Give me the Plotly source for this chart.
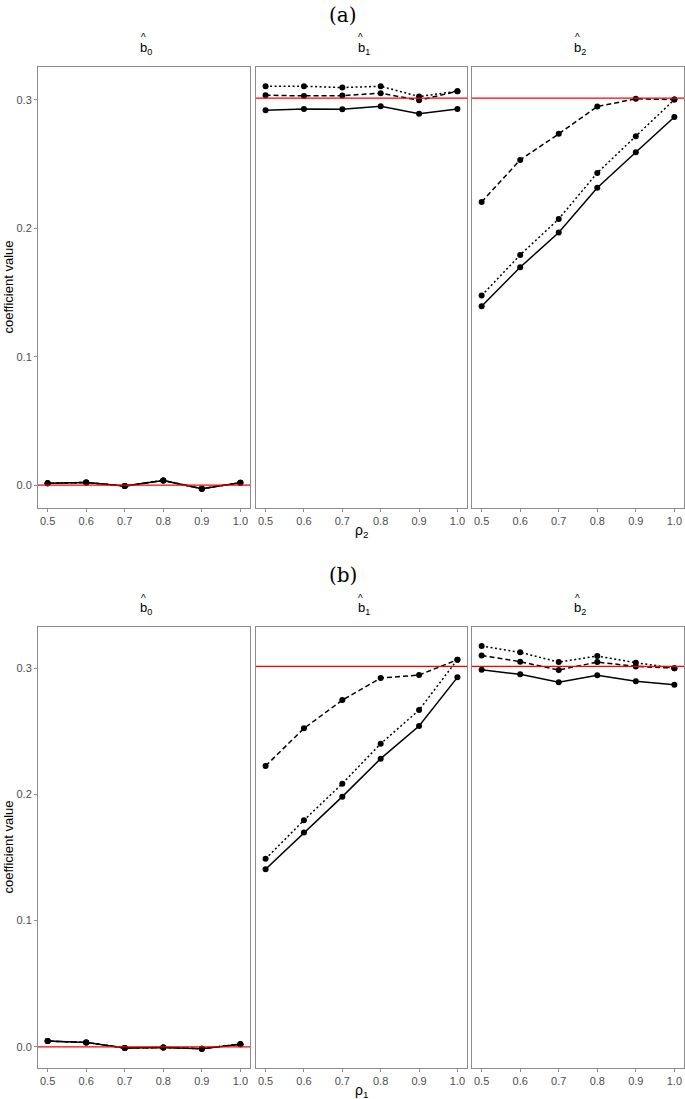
import plotly.graph_objects as go

W, H = 685, 1099

# rho values on the x axis
rho = [0.5, 0.6, 0.7, 0.8, 0.9, 1.0]
true_b = [0.0, 0.3014, 0.3014]
facet_labels = ["b<sub>0</sub>", "b<sub>1</sub>", "b<sub>2</sub>"]

# (a) estimates, varying rho_2
a_b0 = [0.0013, 0.0020, -0.0008, 0.0036, -0.0029, 0.0018]
a_b1_solid = [0.2920, 0.2930, 0.2928, 0.2951, 0.2892, 0.2930]
a_b1_dash = [0.3037, 0.3032, 0.3034, 0.3053, 0.2998, 0.3068]
a_b1_dot = [0.3107, 0.3107, 0.3097, 0.3107, 0.3027, 0.3068]
a_b2_solid = [0.1393, 0.1697, 0.1967, 0.2317, 0.2593, 0.2868]
a_b2_dash = [0.2206, 0.2533, 0.2736, 0.2949, 0.3009, 0.3003]
a_b2_dot = [0.1476, 0.1793, 0.2073, 0.2432, 0.2718, 0.3003]

# (b) estimates, varying rho_1
b_b0 = [0.0045, 0.0035, -0.0010, -0.0005, -0.0015, 0.0020]
b_b1_solid = [0.1407, 0.1697, 0.1982, 0.2283, 0.2542, 0.2927]
b_b1_dash = [0.2225, 0.2523, 0.2747, 0.2922, 0.2945, 0.3067]
b_b1_dot = [0.1489, 0.1795, 0.2085, 0.2401, 0.2668, 0.3067]
b_b2_solid = [0.2987, 0.2951, 0.2888, 0.2943, 0.2896, 0.2869]
b_b2_dash = [0.3101, 0.3051, 0.2985, 0.3048, 0.3014, 0.3000]
b_b2_dot = [0.3175, 0.3125, 0.3048, 0.3096, 0.3043, 0.3000]

panels = [
    {"title": "(a)", "xlab": "\u03c1<sub>2</sub>", "top": 67, "bot": 508,
     "yr": [-0.0179, 0.3257],
     "series": [
         {"solid": a_b0, "dash": a_b0, "dot": a_b0},
         {"solid": a_b1_solid, "dash": a_b1_dash, "dot": a_b1_dot},
         {"solid": a_b2_solid, "dash": a_b2_dash, "dot": a_b2_dot},
     ]},
    {"title": "(b)", "xlab": "\u03c1<sub>1</sub>", "top": 627, "bot": 1068,
     "yr": [-0.0168, 0.3326],
     "series": [
         {"solid": b_b0, "dash": b_b0, "dot": b_b0},
         {"solid": b_b1_solid, "dash": b_b1_dash, "dot": b_b1_dot},
         {"solid": b_b2_solid, "dash": b_b2_dash, "dot": b_b2_dot},
     ]},
]

cols = [(38, 250), (256, 467), (472, 684)]
border = "#8c8c8c"
sans = "Liberation Sans, Arial"
tickfont = dict(family=sans, size=11, color="#4d4d4d")
dashes = {"solid": "solid", "dash": "5px,3px", "dot": "2px,2.5px"}


def px(xp, yp):
    return xp / W, 1 - yp / H


def label(text, xp, yp, size, family=sans, angle=0):
    x, y = px(xp, yp)
    return dict(text=text, xref="paper", yref="paper", x=x, y=y,
                xanchor="center", yanchor="middle", showarrow=False,
                textangle=angle, font=dict(family=family, size=size, color="black"))


fig = go.Figure()
layout = {}
annotations = []
shapes = []

n = 0
for p in panels:
    ydom = [1 - p["bot"] / H, 1 - p["top"] / H]
    for j, (x0, x1) in enumerate(cols):
        n += 1
        sfx = "" if n == 1 else str(n)
        xa, ya = "x" + sfx, "y" + sfx
        first_y = "y" + ("" if n - j == 1 else str(n - j))
        layout["xaxis" + sfx] = dict(
            domain=[x0 / W, x1 / W], anchor=ya, range=[0.475, 1.025],
            tickvals=rho, ticktext=["0.5", "0.6", "0.7", "0.8", "0.9", "1.0"],
            ticks="outside", ticklen=3, tickcolor=border, tickfont=tickfont,
            showline=True, mirror=True, linecolor=border, linewidth=1,
            showgrid=False, zeroline=False, fixedrange=True)
        ydict = dict(
            domain=ydom, anchor=xa, range=p["yr"],
            showline=True, mirror=True, linecolor=border, linewidth=1,
            showgrid=False, zeroline=False, fixedrange=True)
        if j == 0:
            ydict.update(tickvals=[0, 0.1, 0.2, 0.3], ticktext=["0.0", "0.1", "0.2", "0.3"],
                         ticks="outside", ticklen=3, tickcolor=border, tickfont=tickfont)
        else:
            ydict.update(matches=first_y, showticklabels=False, ticks="")
        layout["yaxis" + sfx] = ydict

        s = p["series"][j]
        for style in ["solid", "dash", "dot"]:
            fig.add_trace(go.Scatter(
                x=rho, y=s[style], xaxis=xa, yaxis=ya, mode="lines+markers",
                line=dict(color="black", width=1.5, dash=dashes[style]),
                marker=dict(color="black", size=6), showlegend=False))

        shapes.append(dict(type="line", xref=xa + " domain", yref=ya,
                           x0=0, x1=1, y0=true_b[j], y1=true_b[j],
                           line=dict(color="red", width=1.3), layer="above"))

        cx = (x0 + x1) / 2
        annotations.append(label(facet_labels[j], cx + 2, p["top"] - 19, 13))
        annotations.append(label("^", cx - 1, p["top"] - 29, 10))

    annotations.append(label(p["title"], W / 2, p["top"] - 52, 20, family="DejaVu Serif"))
    annotations.append(label(p["xlab"], (cols[1][0] + cols[1][1]) / 2, p["bot"] + 23, 14))
    annotations.append(label("coefficient value", 8, (p["top"] + p["bot"]) / 2, 13, angle=-90))

fig.update_layout(
    width=W, height=H, margin=dict(l=0, r=0, t=0, b=0),
    plot_bgcolor="white", paper_bgcolor="white",
    annotations=annotations, shapes=shapes, showlegend=False,
    **layout)

fig.write_html("out.html", config={"displayModeBar": False},
               post_script="document.body.style.margin='0';")
